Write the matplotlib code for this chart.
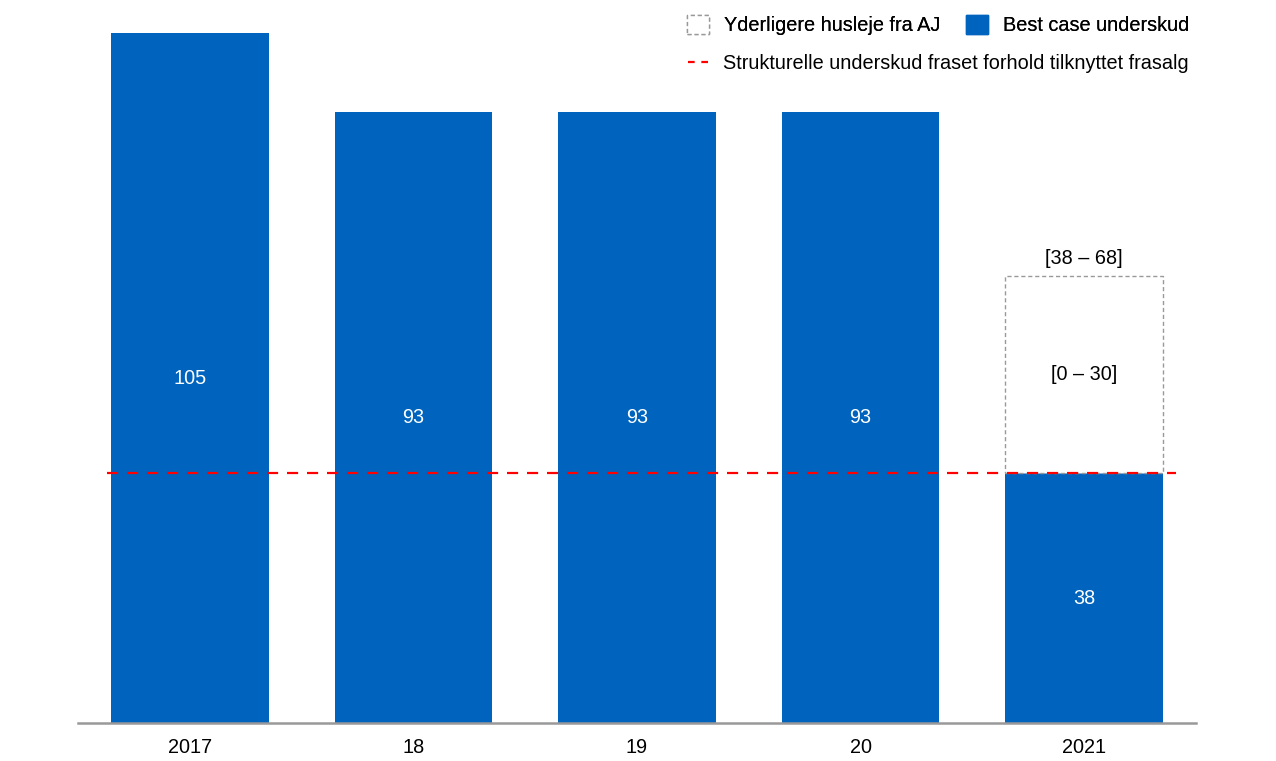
import matplotlib.pyplot as plt
from matplotlib.patches import Patch
from matplotlib.lines import Line2D

plt.rcParams["font.family"] = ["Liberation Sans", "DejaVu Sans"]

years = ["2017", "18", "19", "20", "2021"]
best_case = [105, 93, 93, 93, 38]
extra_rent = [0, 0, 0, 0, 30]
structural = 38
extra_label = "[0 – 30]"
range_label = "[38 – 68]"

blue = "#0064BE"
fs = 14.3

fig = plt.figure(figsize=(12.76, 7.61), dpi=100)
ax = fig.add_axes([78 / 1276, 38 / 761, 1118 / 1276, 690 / 761])

x = list(range(len(years)))
ax.bar(x, best_case, width=0.705, color=blue, zorder=2)
ax.bar(x[-1], extra_rent[-1], bottom=best_case[-1], width=0.705,
       facecolor="white", edgecolor="#999999", linestyle=(0, (3, 2)),
       linewidth=1.0, zorder=2)

for xi, v in zip(x, best_case):
    ax.text(xi, v / 2, f"{v}", ha="center", va="center", color="white",
            fontsize=fs, zorder=4)
ax.text(x[-1], best_case[-1] + extra_rent[-1] / 2, extra_label,
        ha="center", va="center", color="black", fontsize=fs, zorder=4)
ax.text(x[-1], best_case[-1] + extra_rent[-1] + 1.3, range_label,
        ha="center", va="bottom", color="black", fontsize=fs, zorder=4)

ax.plot([-0.37, 4.41], [structural, structural], color="#FF0000",
        linestyle=(0, (5, 4)), linewidth=1.6, zorder=3)

ax.set_xlim(-0.5, 4.5)
ax.set_ylim(0, 105)
ax.set_xticks(x)
ax.set_xticklabels(years, fontsize=fs)
ax.tick_params(axis="x", length=0, pad=11)
ax.set_yticks([])
for side in ["top", "right", "left"]:
    ax.spines[side].set_visible(False)
ax.spines["bottom"].set_color("#999999")
ax.spines["bottom"].set_linewidth(1.8)

handles1 = [
    Patch(facecolor="white", edgecolor="#999999", linestyle=(0, (3, 2)),
          linewidth=1.0, label="Yderligere husleje fra AJ"),
    Patch(facecolor=blue, edgecolor=blue, label="Best case underskud"),
]
leg1 = fig.legend(handles=handles1, loc="upper right", ncol=2,
                  bbox_to_anchor=(1197 / 1276, 1 - 7 / 761), frameon=False,
                  fontsize=fs, handlelength=1.1, handleheight=1.1,
                  handletextpad=0.75, columnspacing=1.3, borderaxespad=0)
fig.add_artist(leg1)
handles2 = [Line2D([0], [0], color="#FF0000", linestyle=(0, (3, 3)),
                   linewidth=1.6,
                   label="Strukturelle underskud fraset forhold tilknyttet frasalg")]
fig.legend(handles=handles2, loc="upper right",
           bbox_to_anchor=(1197 / 1276, 1 - 46 / 761), frameon=False,
           fontsize=fs, handlelength=1.1, handletextpad=0.7, borderaxespad=0)

fig.savefig("out.png", dpi=100)
